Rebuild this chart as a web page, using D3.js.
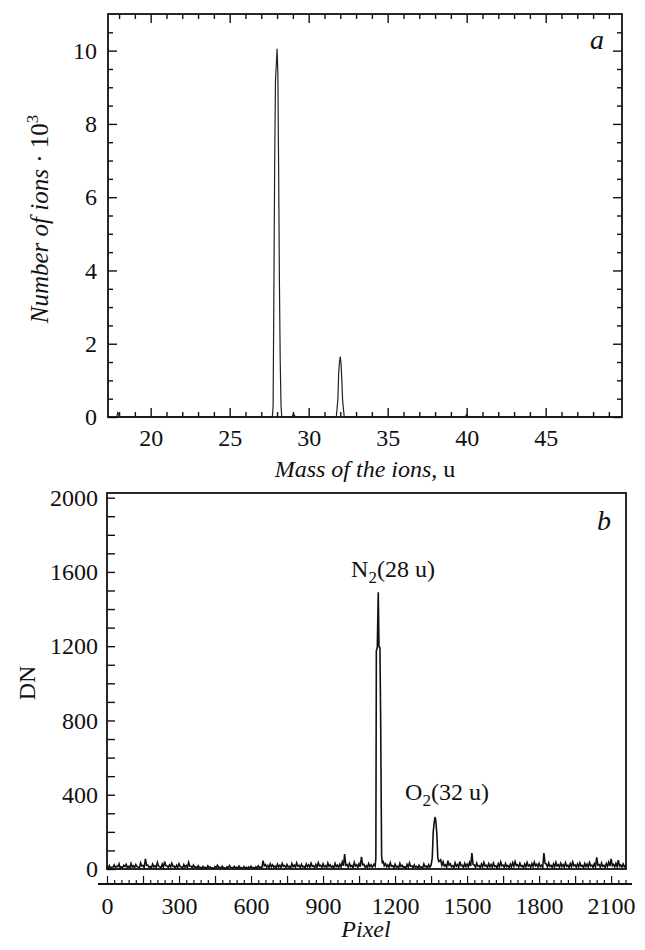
<!DOCTYPE html>
<html>
<head>
<meta charset="utf-8">
<script src="https://cdn.jsdelivr.net/npm/d3@7"></script>
<style>
  body { margin: 0; background: #fff; }
</style>
</head>
<body>
<div id="chart"></div>
<script>
var FONT = "'Liberation Serif', 'Times New Roman', Times, serif";

// ---- panel a : mass spectrum ----
var massTicks = [20, 25, 30, 35, 40, 45];
var ionTicks = [0, 2, 4, 6, 8, 10];
var massValues = [17.3, 17.85, 17.92, 18.0, 18.1,
  27.7, 27.75, 27.8, 27.85, 27.9, 27.95, 28.0, 28.05, 28.1, 28.15, 28.2, 28.25, 28.3,
  28.95, 29.05, 29.15,
  31.75, 31.85, 31.9, 31.95, 32.0, 32.05, 32.1, 32.15, 32.25,
  39.9, 40.0, 40.1, 49.8];
var ionCounts = [0, 0, 0.12, 0.04, 0,
  0, 0.3, 3.5, 7.0, 9.2, 9.6, 10.05, 9.4, 6.7, 3.6, 1.5, 0.3, 0,
  0, 0.09, 0,
  0, 0.5, 1.2, 1.5, 1.65, 1.45, 1.0, 0.45, 0,
  0, 0.07, 0, 0];

// ---- panel b : detector readout ----
var pixelTicks = [0, 300, 600, 900, 1200, 1500, 1800, 2100];
var dnTicks = [0, 400, 800, 1200, 1600, 2000];
// background readout at pixels 0, 10, 20 ... 2160
var dnNoise = [
  12, 18, 9, 22, 15, 28, 11, 20, 25, 14,
  30, 17, 24, 10, 33, 19, 54, 21, 13, 27,
  18, 35, 12, 26, 40, 16, 22, 31, 14, 20,
  28, 11, 24, 19, 36, 15, 21, 12, 18, 9,
  14, 8, 17, 11, 6, 13, 20, 9, 15, 7,
  12, 18, 8, 14, 10, 16, 6, 13, 9, 11,
  15, 8, 12, 17, 10, 45, 24, 19, 28, 22,
  16, 26, 20, 30, 18, 24, 14, 29, 21, 33,
  19, 25, 15, 27, 22, 31, 17, 24, 34, 20,
  28, 18, 32, 23, 16, 30, 21, 26, 38, 80,
  24, 30, 19, 35, 22, 28, 66, 25, 18, 30,
  22, 20, 18, 45, 38, 45, 28, 22, 34, 18,
  26, 15, 30, 20, 12, 24, 33, 17, 22, 14,
  20, 11, 27, 16, 23, 9, 18, 25, 30, 50,
  38, 22, 45, 28, 18, 33, 24, 40, 20, 30,
  26, 35, 86, 22, 31, 18, 27, 36, 20, 29,
  24, 32, 17, 28, 38, 21, 30, 19, 26, 34,
  40, 23, 31, 18, 27, 35, 22, 29, 37, 25,
  30, 20, 86, 26, 33, 19, 28, 36, 23, 31,
  24, 34, 20, 29, 38, 22, 27, 33, 19, 30,
  26, 35, 21, 28, 63, 24, 32, 20, 29, 36,
  54, 25, 30, 48, 22, 27, 20];
// background readout at pixels 5, 15, 25 ... 2155
var dnNoiseMid = [
  6, 4, 10, 7, 12, 5, 9, 14, 8, 6,
  11, 7, 13, 5, 16, 8, 20, 9, 6, 12,
  7, 15, 5, 10, 18, 8, 11, 14, 6, 9,
  13, 5, 10, 8, 15, 6, 9, 4, 7, 3,
  5, 3, 8, 4, 2, 6, 9, 3, 7, 2,
  5, 8, 3, 6, 4, 7, 2, 5, 3, 4,
  6, 3, 5, 8, 4, 18, 10, 7, 12, 9,
  6, 11, 8, 14, 7, 10, 5, 13, 9, 15,
  8, 11, 6, 12, 9, 14, 7, 10, 16, 8,
  12, 7, 14, 9, 6, 13, 8, 11, 17, 20,
  10, 13, 7, 16, 9, 12, 22, 10, 7, 13,
  9, 8, 7, 20, 15, 18, 12, 9, 15, 7,
  11, 6, 13, 8, 4, 10, 15, 7, 9, 5,
  8, 4, 12, 6, 10, 3, 7, 11, 13, 20,
  16, 9, 20, 12, 7, 15, 10, 18, 8, 13,
  11, 16, 25, 9, 14, 7, 12, 16, 8, 13,
  10, 14, 6, 12, 17, 9, 13, 7, 11, 15,
  18, 10, 14, 7, 12, 16, 9, 13, 17, 11,
  13, 8, 30, 11, 15, 7, 12, 16, 10, 14,
  10, 15, 8, 13, 17, 9, 12, 15, 7, 13,
  11, 16, 9, 12, 20, 10, 14, 8, 13, 16,
  18, 11, 13, 15, 9, 12];
var n2Pixels = [1112, 1117, 1120, 1122, 1126, 1130, 1133, 1137, 1140, 1142, 1144, 1147];
var n2Dn = [25, 15, 60, 1175, 1195, 1490, 1200, 1190, 800, 420, 70, 30];
var o2Pixels = [1350, 1355, 1359, 1363, 1367, 1370, 1374, 1378, 1382];
var o2Dn = [20, 60, 200, 250, 280, 255, 190, 60, 40];

var W = 645, H = 950;
var svg = d3.select("#chart").append("svg")
  .attr("width", W).attr("height", H);

function label(x, y, size) {
  return svg.append("text").attr("x", x).attr("y", y)
    .attr("text-anchor", "middle")
    .style("font-family", FONT).style("font-size", size + "px").style("fill", "#111");
}

function sizeTicks(g, isMajor, minor, major) {
  g.selectAll(".tick line").each(function(d) {
    var len = isMajor(d) ? major : minor;
    var el = d3.select(this);
    if (el.attr("x2") !== null && +el.attr("x2") !== 0) el.attr("x2", len);
    else el.attr("y2", len);
  });
}

function styleAxis(g) {
  g.attr("font-family", null).attr("font-size", null);
  g.selectAll(".domain").remove();
  g.selectAll(".tick text")
    .style("font-family", FONT).style("font-size", "24px").style("fill", "#111");
  g.selectAll(".tick line").attr("stroke", "#111").attr("stroke-width", 1.4);
}

// ---------- panel a ----------
var a = { left: 108, right: 622, top: 14, bottom: 417 };
var xa = d3.scaleLinear().domain([17.3, 49.83]).range([a.left, a.right]);
var ya = d3.scaleLinear().domain([0, 11]).range([a.bottom, a.top]);

var fine = d3.range(18, 50, 1);
var gaB = svg.append("g").attr("transform", "translate(0," + a.bottom + ")")
  .call(d3.axisBottom(xa).tickValues(fine).tickSizeInner(-5).tickSizeOuter(0).tickPadding(12)
    .tickFormat(function(d) { return massTicks.indexOf(d) >= 0 ? d : ""; }));
sizeTicks(gaB, function(d) { return d % 5 === 0; }, -5, -9);
styleAxis(gaB);
var gaT = svg.append("g").attr("transform", "translate(0," + a.top + ")")
  .call(d3.axisTop(xa).tickValues(fine).tickSizeInner(-5).tickSizeOuter(0).tickFormat(""));
sizeTicks(gaT, function(d) { return d % 5 === 0; }, 5, 9);
styleAxis(gaT);

var halfSteps = d3.range(0, 11, 0.5);
var gaL = svg.append("g").attr("transform", "translate(" + a.left + ",0)")
  .call(d3.axisLeft(ya).tickValues(halfSteps).tickSizeInner(-5).tickSizeOuter(0).tickPadding(11)
    .tickFormat(function(d) { return ionTicks.indexOf(d) >= 0 ? d : ""; }));
sizeTicks(gaL, function(d) { return ionTicks.indexOf(d) >= 0; }, 5, 9);
styleAxis(gaL);
var gaR = svg.append("g").attr("transform", "translate(" + a.right + ",0)")
  .call(d3.axisRight(ya).tickValues(halfSteps).tickSizeInner(-5).tickSizeOuter(0).tickFormat(""));
sizeTicks(gaR, function(d) { return ionTicks.indexOf(d) >= 0; }, -5, -9);
styleAxis(gaR);

var specA = massValues.map(function(m, i) { return [m, ionCounts[i]]; });
svg.append("path")
  .datum(specA)
  .attr("fill", "none")
  .attr("stroke", "#222")
  .attr("stroke-width", 1.2)
  .attr("d", d3.line().x(function(d) { return xa(d[0]); }).y(function(d) { return ya(d[1]); }));

svg.append("rect")
  .attr("x", a.left).attr("y", a.top)
  .attr("width", a.right - a.left).attr("height", a.bottom - a.top)
  .attr("fill", "none").attr("stroke", "#111").attr("stroke-width", 1.8);

label(597, 49, 28).style("font-style", "italic").text("a");

var yLabA = svg.append("text")
  .attr("transform", "translate(48,219) rotate(-90)")
  .attr("text-anchor", "middle")
  .style("font-family", FONT).style("font-size", "25px").style("fill", "#111");
yLabA.append("tspan").style("font-style", "italic").text("Number of ions");
yLabA.append("tspan").text(" \u00b7 10");
yLabA.append("tspan").attr("dy", -10).style("font-size", "17px").text("3");

var xLabA = label(365, 477, 24);
xLabA.append("tspan").style("font-style", "italic").text("Mass of the ions");
xLabA.append("tspan").text(", u");

// ---------- panel b ----------
var b = { left: 107, right: 626, top: 493, bottom: 869, axisY: 884 };
var xb = d3.scaleLinear().domain([0, 2162]).range([b.left, b.right]);
var yb = d3.scaleLinear().domain([0, 2025]).range([b.bottom, b.top]);

var gbL = svg.append("g").attr("transform", "translate(" + b.left + ",0)")
  .call(d3.axisLeft(yb).tickValues(d3.range(0, 2001, 100)).tickSizeInner(-8).tickSizeOuter(0).tickPadding(9)
    .tickFormat(function(d) { return dnTicks.indexOf(d) >= 0 ? d : ""; }));
styleAxis(gbL);

var gbX = svg.append("g").attr("transform", "translate(0," + b.axisY + ")")
  .call(d3.axisBottom(xb).tickValues(d3.range(0, 2161, 30)).tickSizeInner(-4).tickSizeOuter(0).tickPadding(13)
    .tickFormat(function(d) { return pixelTicks.indexOf(d) >= 0 ? d : ""; }));
sizeTicks(gbX, function(d) { return d % 150 === 0; }, -4, -8);
styleAxis(gbX);
gbX.selectAll(".tick line").attr("stroke-width", 1.2);

svg.append("line")
  .attr("x1", 98).attr("x2", 632).attr("y1", b.axisY).attr("y2", b.axisY)
  .attr("stroke", "#111").attr("stroke-width", 2);

var specB = dnNoise.map(function(v, i) { return [i * 10, v]; })
  .concat(dnNoiseMid.map(function(v, i) { return [i * 10 + 5, v]; }))
  .filter(function(d) { return !(d[0] > 1108 && d[0] < 1150) && !(d[0] > 1346 && d[0] < 1386); })
  .concat(n2Pixels.map(function(p, i) { return [p, n2Dn[i]]; }))
  .concat(o2Pixels.map(function(p, i) { return [p, o2Dn[i]]; }))
  .sort(function(p, q) { return p[0] - q[0]; });

svg.append("path")
  .datum(specB)
  .attr("fill", "none")
  .attr("stroke", "#111")
  .attr("stroke-width", 1.6)
  .attr("d", d3.line().x(function(d) { return xb(d[0]); }).y(function(d) { return yb(d[1]); }));

svg.append("rect")
  .attr("x", b.left).attr("y", b.top)
  .attr("width", b.right - b.left).attr("height", b.bottom - b.top)
  .attr("fill", "none").attr("stroke", "#111").attr("stroke-width", 1.8);

label(604, 530, 28).style("font-style", "italic").text("b");

var n2Lab = label(393, 577, 24);
n2Lab.append("tspan").text("N");
n2Lab.append("tspan").attr("dy", 6).style("font-size", "17px").text("2");
n2Lab.append("tspan").attr("dy", -6).text("(28 u)");

var o2Lab = label(447, 800, 24);
o2Lab.append("tspan").text("O");
o2Lab.append("tspan").attr("dy", 6).style("font-size", "17px").text("2");
o2Lab.append("tspan").attr("dy", -6).text("(32 u)");

svg.append("text")
  .attr("transform", "translate(27,683) rotate(-90)")
  .attr("text-anchor", "middle").attr("dy", "0.35em")
  .style("font-family", FONT).style("font-size", "24px").style("fill", "#111").text("DN");

label(366, 937, 24).style("font-style", "italic").text("Pixel");
</script>
</body>
</html>
